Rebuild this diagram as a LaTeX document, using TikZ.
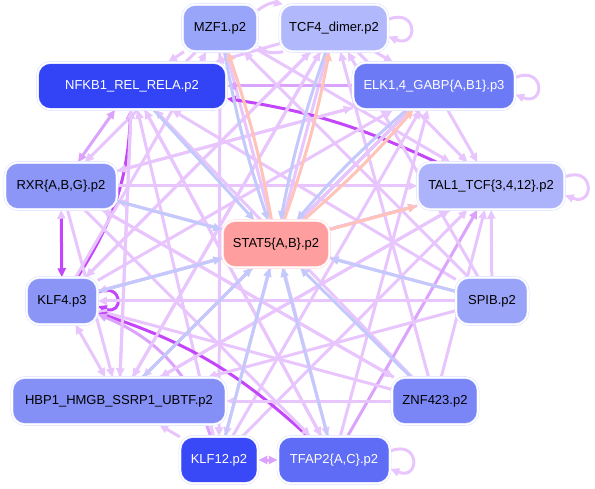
\documentclass[tikz,border=0pt]{standalone}
\usepackage{fontspec}
\setmainfont{Liberation Sans}
\usetikzlibrary{arrows.meta,backgrounds}

% Kantenfarben
\definecolor{lp}{HTML}{E8C6FD}
\definecolor{mp}{HTML}{DBA3FB}
\definecolor{dp}{HTML}{C446FA}
\definecolor{lb}{HTML}{C3C9FB}
\definecolor{ls}{HTML}{FFC3B9}
\definecolor{rim}{HTML}{D8DCFF}
\definecolor{rimred}{HTML}{FFD6D6}
% Knotenfarben
\definecolor{cmzf}{HTML}{98A5F8}
\definecolor{ctcf}{HTML}{B1B8FB}
\definecolor{cnfkb}{HTML}{3344F7}
\definecolor{celk}{HTML}{6C7AF6}
\definecolor{crxr}{HTML}{8B96F6}
\definecolor{ctal}{HTML}{ACB3FA}
\definecolor{cstat}{HTML}{FF9E9E}
\definecolor{cklfiv}{HTML}{8A95F6}
\definecolor{cspib}{HTML}{99A3F8}
\definecolor{chbp}{HTML}{8590F6}
\definecolor{cznf}{HTML}{7A86F6}
\definecolor{cklfxii}{HTML}{3A49F7}
\definecolor{ctfap}{HTML}{5E6CF6}

\begin{document}
\begin{tikzpicture}[x=1pt, y=-1pt, >={Triangle[length=9pt,width=8pt]},
    tf/.style={draw=rim, double=white, double distance=1.6pt, line width=0.5pt,
      rounded corners=13pt, minimum height=47pt, inner sep=0pt,
      font=\fontsize{13pt}{15pt}\selectfont},
    e/.style={->, line width=3pt, lp}]

\useasboundingbox (0,0) rectangle (595,489);

% Knoten (Motive)
\node[tf, fill=cmzf, minimum width=75pt]  (mzf)   at (220, 28) {MZF1.p2};
\node[tf, fill=ctcf, minimum width=108pt] (tcf)   at (334, 28) {TCF4\_dimer.p2};
\node[tf, fill=cnfkb, minimum width=189pt, text=white] (nfkb) at (132, 86) {NFKB1\_REL\_RELA.p2};
\node[tf, fill=celk, minimum width=162pt, text=white]  (elk)  at (434, 86) {ELK1,4\_GABP\{A,B1\}.p3};
\node[tf, fill=crxr, minimum width=112pt] (rxr)   at ( 61,186) {RXR\{A,B,G\}.p2};
\node[tf, fill=ctal, minimum width=147pt] (tal)   at (491,186) {TAL1\_TCF\{3,4,12\}.p2};
\node[tf, fill=cstat, minimum width=107pt, draw=rimred] (stat) at (276,244) {STAT5\{A,B\}.p2};
\node[tf, fill=cklfiv, minimum width=71pt]  (klf4)  at ( 62,301) {KLF4.p3};
\node[tf, fill=cspib, minimum width=72pt]  (spib)  at (492,301) {SPIB.p2};
\node[tf, fill=chbp, minimum width=214pt] (hbp)   at (119,401) {HBP1\_HMGB\_SSRP1\_UBTF.p2};
\node[tf, fill=cznf, minimum width=86pt]  (znf)   at (435,401) {ZNF423.p2};
\node[tf, fill=cklfxii, minimum width=78pt, text=white]  (klf12) at (219,460) {KLF12.p2};
\node[tf, fill=ctfap, minimum width=112pt, text=white] (tfap)  at (334,460) {TFAP2\{A,C\}.p2};

\begin{scope}[on background layer]
% oben: MZF1 und TCF4
\draw[e] (mzf) to[bend left=25] (tcf);
\draw[e] (tcf) to[bend left=25] (mzf);
\draw[e] (tcf.9) .. controls +(30,-12) and +(30,12) .. (tcf.-9);
\draw[e] (tcf) -- (elk);
\draw[e] (mzf) -- (nfkb);
\draw[e] (tcf) -- (nfkb);
\draw[e] (mzf) -- (klf12);
\draw[e] (mzf) -- (tal);
\draw[e] (mzf) -- (rxr);
\draw[e] (mzf) -- (tfap);
\draw[e] (tcf) -- (klf4);
\draw[e] (tcf) -- (hbp);
\draw[e] (tcf) -- (tal);
\draw[e] (tcf) -- (klf12);

% in NFKB1
\draw[e, mp] (elk) -- (nfkb);
\draw[e, dp] (tal) to[bend right=8] (nfkb);
\draw[e, dp] (klf4) to[bend right=15] (nfkb);
\draw[e, <->, mp] (rxr) -- (nfkb);
\draw[e] (hbp) -- (nfkb);
\draw[e] (klf12) -- (nfkb);
\draw[e] (tfap) -- (nfkb);
\draw[e] (spib) -- (nfkb);
\draw[e] (znf) -- (nfkb);

% ELK1
\draw[e] (elk.6) .. controls +(30,-12) and +(30,12) .. (elk.-6);
\draw[e] (elk) -- (tal);
\draw[e] (klf4) -- (elk);
\draw[e, mp] (hbp) -- (elk);
\draw[e] (klf12) -- (elk);
\draw[e] (tfap) -- (elk);
\draw[e] (elk) -- (rxr);
\draw[e] (elk) -- (hbp);
\draw[e] (rxr) -- (elk);

% TAL1
\draw[e] (tal.7) .. controls +(30,-12) and +(30,12) .. (tal.-7);
\draw[e] (spib) -- (tal);
\draw[e] (znf) -- (tal);
\draw[e] (rxr) -- (tal);
\draw[e, mp] (klf4) -- (tal);
\draw[e] (hbp) -- (tal);
\draw[e] (klf12) -- (tal);
\draw[e, mp] (tfap) -- (tal);

% links: RXR, KLF4, HBP1
\draw[line width=3pt, dp, {Triangle[length=9pt,width=8pt,color=lp]}-{Triangle[length=9pt,width=8pt]}] (rxr) -- (klf4);
\draw[e, dp] (klf4.14) .. controls +(26,-10) and +(26,10) .. (klf4.-8);
\draw[e, <->] (klf4) -- (hbp);
\draw[e] (spib) -- (klf4);
\draw[e] (znf) -- (klf4);
\draw[e, dp] (tfap) to[bend right=12] (klf4);
\draw[e, mp] (klf12) to[bend right=25] (klf4);
\draw[e] (rxr) -- (hbp);
\draw[e] (nfkb) -- (hbp);
\draw[e] (spib) -- (rxr);
\draw[e] (znf) -- (rxr);
\draw[e] (spib) -- (hbp);
\draw[e] (znf) -- (hbp);
\draw[e] (klf12) -- (hbp);
\draw[e] (tal) -- (hbp);
\draw[e] (tal) -- (klf4);
\draw[e] (nfkb) -- (tfap);
\draw[e] (rxr) -- (tfap);
\draw[e] (rxr) -- (znf);
\draw[e] (spib) -- (mzf);
\draw[e] (spib) -- (tcf);
\draw[e] (znf) -- (tcf);
\draw[e] (klf4) -- (mzf);
\draw[e] (klf4) -- (tcf);
\draw[e] (hbp) -- (tcf);

% unten: KLF12 und TFAP2
\draw[e, <->, mp] (klf12) -- (tfap);
\draw[e] (tfap.9) .. controls +(30,-12) and +(30,12) .. (tfap.-9);

% in STAT5 (blau) und aus STAT5 (lachs)
\draw[e, lb] (mzf) to[bend right=4] (stat);
\draw[e, lb] (tcf) to[bend right=4] (stat);
\draw[e, lb] (nfkb) -- (stat);
\draw[e, lb] (elk) to[bend right=4] (stat);
\draw[e, lb] (rxr) -- (stat);
\draw[e, lb] (klf4) -- (stat);
\draw[e, lb] (hbp) -- (stat);
\draw[e, lb] (klf12) -- (stat);
\draw[e, lb] (tfap) -- (stat);
\draw[e, lb] (znf) -- (stat);
\draw[e, lb] (spib) -- (stat);
\draw[e, ls] (stat) to[bend right=4] (mzf);
\draw[e, ls] (stat) to[bend right=4] (tcf);
\draw[e, ls] (stat) to[bend right=4] (elk);
\draw[e, ls] (stat) -- (tal);
\end{scope}

\end{tikzpicture}
\end{document}
